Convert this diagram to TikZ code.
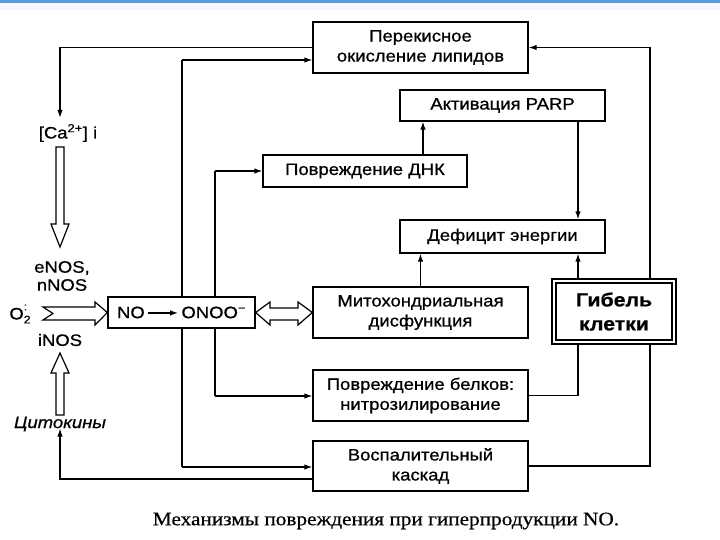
\documentclass[tikz,border=0pt]{standalone}
\usepackage{fontspec}
\setmainfont{Liberation Sans}[FakeStretch=1.12,FakeBold=0.8]
\newfontfamily\capfont{Liberation Serif}[FakeStretch=1.12,FakeBold=0.6]
\usetikzlibrary{arrows.meta}
\pgfdeclarelayer{bg}
\pgfsetlayers{bg,main}
\definecolor{topblue}{RGB}{91,155,213}
\newcommand{\smallsc}[1]{\mbox{\fontsize{11}{11}\selectfont #1}}
\tikzset{
  box/.style={draw, line width=1.3pt, fill=white, align=center, inner sep=0pt,
    font=\fontsize{16.5}{20}\selectfont},
  lbl/.style={align=center, inner sep=0pt, font=\fontsize{16.5}{18}\selectfont},
  arr/.style={-{Latex[length=8pt,width=5.5pt]}, line width=1.2pt},
  ln/.style={line width=1.2pt},
  hollow/.style={draw, line width=1.2pt, fill=white, line join=miter}
}
\begin{document}
\begin{tikzpicture}[x=1pt,y=-1pt]
\useasboundingbox (0,0) rectangle (720,540);

% bandeau
\fill[blue!4] (0,3) rectangle (720,10);
\fill[topblue] (0,0) rectangle (720,3.5);

% blocs
\node[box, minimum width=215pt, minimum height=51pt] (perox) at (420.5,47.5) {Перекисное\\окисление липидов};
\node[box, minimum width=205pt, minimum height=31pt] (parp) at (502.5,105.5) {Активация PARP};
\node[box, minimum width=204pt, minimum height=32pt] (dnk) at (365,171) {Повреждение ДНК};
\node[box, minimum width=205pt, minimum height=33pt] (defic) at (502.5,236.5) {Дефицит энергии};
\node[box, minimum width=215pt, minimum height=51pt] (mito) at (420.5,312.5) {Митохондриальная\\дисфункция};
\node[box, minimum width=215pt, minimum height=51pt] (belk) at (420.5,395.5) {Повреждение белков:\\нитрозилирование};
\node[box, minimum width=215pt, minimum height=50pt] (vosp) at (420.5,466) {Воспалительный\\каскад};
\node[box, minimum width=120pt, minimum height=61pt, line width=2.2pt, double=white,
  double distance=1.3pt, font=\bfseries\fontsize{19}{24}\selectfont] (gibel) at (614,311.5) {Гибель\\клетки};
\node[box, minimum width=147pt, minimum height=31pt] (nobox) at (181.5,312.5)
  {NO\,\tikz[baseline=-0.6ex]\draw[arr] (0,0) -- (30pt,0);\,ONOO\textsuperscript{−}};

% подписи слева
\node[lbl] (ca) at (68,133) {[Ca\textsuperscript{2+}] i};
\node[lbl] (nos) at (62,276) {eNOS,\\nNOS};
\node[lbl] (oxy) at (20,314) {O\rlap{\raisebox{9pt}{\smallsc{:}}}\raisebox{-4pt}{\smallsc{2}}};
\node[lbl] (inos) at (60,340) {iNOS};
\node[lbl, font=\itshape\fontsize{16.5}{18}\selectfont] (cyto) at (60,424) {Цитокины};

% полые стрелки
\draw[hollow] (56,147) -- (64,147) -- (64,224) -- (69,224) -- (60,247) -- (51,224) -- (56,224) -- cycle;
\draw[hollow] (56,415) -- (64,415) -- (64,373) -- (69,373) -- (60,353) -- (51,373) -- (56,373) -- cycle;
\draw[hollow] (43,307) -- (95,307) -- (95,302) -- (nobox.west) -- (95,325) -- (95,320) -- (43,320) -- (53,313.5) -- cycle;
\draw[hollow] (nobox.east) -- (270,302) -- (270,308) -- (298,308) -- (298,302) -- (mito.west)
  -- (298,325) -- (298,320) -- (270,320) -- (270,325) -- cycle;

% связи
\begin{pgfonlayer}{bg}
\coordinate (busA) at (182,60);
\coordinate (busB) at (182,467);
\coordinate (busC) at (215,171);
\coordinate (busD) at (215,396);
\draw[ln] (busA) -- (busB);
\draw[ln] (busC) -- (busD);
\draw[arr] (busA) -- (busA -| perox.west);
\draw[arr] (busB) -- (busB -| vosp.west);
\draw[arr] (busC) -- (dnk.west);
\draw[arr] (busD) -- (busD -| belk.west);
\draw[arr] (perox.west) -| ([xshift=-8pt,yshift=6pt]ca.north);
\draw[arr] ([yshift=-13pt]vosp.west) -| ([yshift=3pt]cyto.south);
\draw[arr] ([xshift=58pt]dnk.north) coordinate (d1) -- (d1 |- parp.south);
\draw[arr] ([xshift=75.5pt]parp.south) coordinate (p1) -- (p1 |- defic.north);
\draw[arr] (mito.north) -- (mito.north |- defic.south);
\draw[arr] ([xshift=-36pt]gibel.north) coordinate (g1) -- (g1 |- defic.south);
\draw[arr] ([xshift=36pt]gibel.north) |- (perox.east);
\draw[ln] (belk.east) -| ([xshift=-36pt]gibel.south);
\draw[ln] (vosp.east) -| ([xshift=36pt]gibel.south);
\end{pgfonlayer}

% подпись
\node[font=\capfont\fontsize{19}{22}\selectfont] (caption) at (386,521) {Механизмы повреждения при гиперпродукции NO.};

\end{tikzpicture}
\end{document}
